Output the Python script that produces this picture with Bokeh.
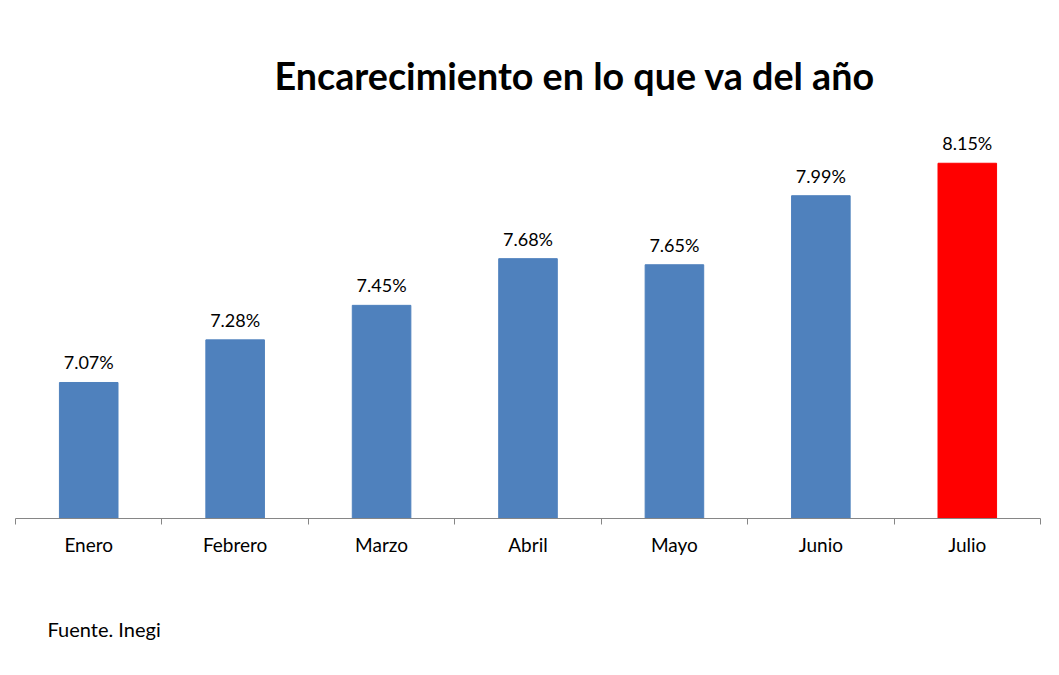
from bokeh.plotting import figure
from bokeh.models import ColumnDataSource, Range1d, FixedTicker, LabelSet, Title
from bokeh.core.properties import value
from bokeh.embed import file_html
from bokeh.resources import INLINE

months = ["Enero", "Febrero", "Marzo", "Abril", "Mayo", "Junio", "Julio"]
values = [7.07, 7.28, 7.45, 7.68, 7.65, 7.99, 8.15]
colors = ["#4F81BD"] * 6 + ["#FF0000"]
title_text = "Encarecimiento en lo que va del año"
source_text = "Fuente. Inegi"

y_min, y_max = 6.4, 8.4
xs = [i + 0.5 for i in range(len(months))]
labels = ["%.2f%%" % v for v in values]

src = ColumnDataSource(dict(x=xs, top=values, color=colors, label=labels))

p = figure(width=1059, height=675, output_backend="svg", toolbar_location=None,
           x_range=Range1d(0, len(months)), y_range=Range1d(y_min, y_max),
           y_axis_location=None, min_border_left=15, min_border_right=19,
           min_border_top=112, min_border_bottom=157)
p.outline_line_color = None
p.xgrid.visible = False
p.ygrid.visible = False
p.background_fill_color = "white"
p.border_fill_color = "white"

p.vbar(x="x", top="top", bottom=y_min, width=0.4, color="color", source=src)

ax = p.xaxis[0]
ax.ticker = FixedTicker(ticks=xs, minor_ticks=list(range(len(months) + 1)))
ax.major_label_overrides = {x: m for x, m in zip(xs, months)}
ax.major_tick_out = 0
ax.major_tick_in = 0
ax.minor_tick_out = 6
ax.minor_tick_in = 0
ax.minor_tick_line_color = "#868686"
ax.axis_line_color = "#868686"
ax.major_label_text_font = "Lato"
ax.major_label_text_font_size = "19px"
ax.major_label_text_color = "black"
ax.major_label_standoff = 8

ls = LabelSet(x="x", y="top", text="label", source=src, text_align="center",
              text_baseline="alphabetic", y_offset=13, text_font=value("Lato"),
              text_font_size=value("18px"), text_color="black")
p.add_layout(ls)

p.title = Title(text=title_text, align="left", offset=259, standoff=29,
                text_font="Lato", text_font_style="bold", text_font_size="37.7px",
                text_color="black")
p.add_layout(Title(text="\n\n" + source_text, align="left", offset=32, standoff=16,
                   text_font="Lato", text_font_style="normal", text_font_size="20px",
                   text_color="black"), "below")

open("out.html", "w").write(file_html(p, INLINE))
